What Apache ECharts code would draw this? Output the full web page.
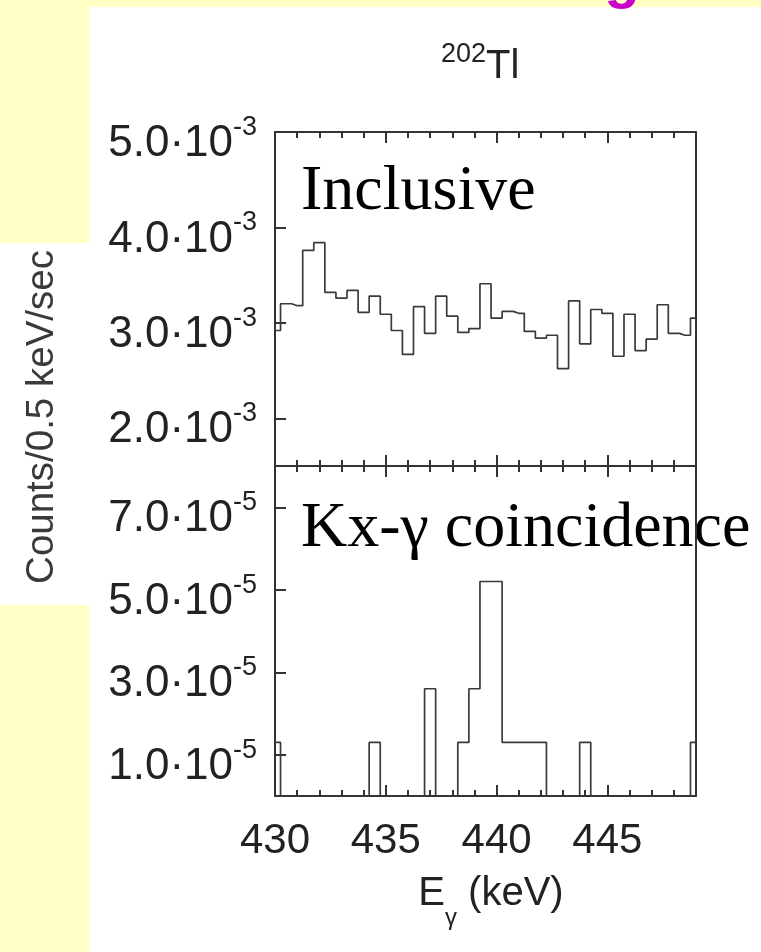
<!DOCTYPE html>
<html>
<head>
<meta charset="utf-8">
<script src="https://cdn.jsdelivr.net/npm/echarts@6/dist/echarts.min.js"></script>
<style>
  html, body { margin: 0; padding: 0; background: #FFFFC6; }
  #chart { width: 761px; height: 952px; }
</style>
</head>
<body>
<div id="chart"></div>
<script>
// bin centres (0.5 keV bins)
const energies = [430, 430.5, 431, 431.5, 432, 432.5, 433, 433.5, 434, 434.5,
  435, 435.5, 436, 436.5, 437, 437.5, 438, 438.5, 439, 439.5,
  440, 440.5, 441, 441.5, 442, 442.5, 443, 443.5, 444, 444.5,
  445, 445.5, 446, 446.5, 447, 447.5, 448, 448.5, 449]

// counts/0.5keV/sec, inclusive spectrum
const inclusive = [0.00292, 0.00320, 0.00318, 0.00376, 0.00384, 0.00332, 0.00326, 0.00334, 0.00311, 0.00328,
  0.00309, 0.00292, 0.00267, 0.00317, 0.00289, 0.00328, 0.00307, 0.00290, 0.00294, 0.00341,
  0.00305, 0.00312, 0.00310, 0.00291, 0.00284, 0.00287, 0.00252, 0.00323, 0.00278, 0.00314,
  0.00310, 0.00265, 0.00309, 0.00271, 0.00283, 0.00319, 0.00289, 0.00287, 0.00305]

// Kx-gamma coincidence spectrum
const coincidence = [1.3e-5, 0, 0, 0, 0, 0, 0, 0, 0, 1.3e-5,
  0, 0, 0, 0, 2.6e-5, 0, 0, 1.3e-5, 2.6e-5, 5.2e-5,
  5.2e-5, 1.3e-5, 1.3e-5, 1.3e-5, 1.3e-5, 0, 0, 0, 1.3e-5, 0,
  0, 0, 0, 0, 0, 0, 0, 0, 1.3e-5]

const xTickLabels = [430, 435, 440, 445]
const xMajorTicks = [435, 440, 445]
const yTicksTop = [0.002, 0.003, 0.004, 0.005]
const yTicksBottom = [1e-5, 3e-5, 5e-5, 7e-5]

const frameColor = '#333'
const sans = 'Liberation Sans, Arial, sans-serif'
const serif = 'Liberation Serif, Times New Roman, serif'

const chart = echarts.init(document.getElementById('chart'))

const sciRich = {
  m: { fontSize: 44, fontFamily: sans, color: '#222', lineHeight: 52, verticalAlign: 'bottom' },
  s: { fontSize: 27, fontFamily: sans, color: '#222', lineHeight: 30, verticalAlign: 'top' }
}
function sciLabel(exp) {
  return v => '{m|' + (v / Math.pow(10, exp)).toFixed(1) + '·10}{s|' + exp + '}'
}

const lineStyle = { color: frameColor, width: 2 }

// minor (1 keV) and major (5 keV) ticks, drawn on bottom and top of each panel
function xAxes(gridIndex, withLabels) {
  let list = []
  ;['bottom', 'top'].forEach(pos => {
    list.push({
      gridIndex, type: 'value', position: pos, min: 430, max: 449, interval: 1,
      axisLine: { show: true, lineStyle },
      axisTick: { inside: true, length: 6, lineStyle },
      axisLabel: { show: false },
      splitLine: { show: false }
    })
    list.push({
      gridIndex, type: 'value', position: pos, min: 430, max: 449,
      axisLine: { show: false },
      axisTick: { inside: true, length: 11, lineStyle, customValues: xMajorTicks },
      axisLabel: {
        show: withLabels && pos === 'bottom',
        customValues: xTickLabels,
        margin: 24,
        fontSize: 42, fontFamily: sans, color: '#222'
      },
      splitLine: { show: false }
    })
  })
  return list
}

function yAxes(gridIndex, min, max, ticks, exp) {
  return [
    {
      gridIndex, type: 'value', position: 'left', min, max,
      axisLine: { show: true, lineStyle },
      axisTick: { inside: true, length: 11, lineStyle, customValues: ticks },
      axisLabel: { customValues: ticks, margin: 18, padding: [16, 0, 0, 0], formatter: sciLabel(exp), rich: sciRich },
      splitLine: { show: false }
    },
    {
      gridIndex, type: 'value', position: 'right', min, max,
      axisLine: { show: true, lineStyle },
      axisTick: { show: false },
      axisLabel: { show: false },
      splitLine: { show: false }
    }
  ]
}

const option = {
  backgroundColor: '#FFFFC6',
  animation: false,
  grid: [
    { left: 275, top: 132, width: 421, height: 334 },
    { left: 275, top: 466, width: 421, height: 330 }
  ],
  xAxis: [...xAxes(0, false), ...xAxes(1, true)],
  yAxis: [...yAxes(0, 0.0015, 0.005, yTicksTop, -3), ...yAxes(1, 0, 8e-5, yTicksBottom, -5)],
  series: [
    {
      type: 'line', step: 'middle', xAxisIndex: 0, yAxisIndex: 0,
      data: energies.map((e, i) => [e, inclusive[i]]),
      symbol: 'none', lineStyle: { color: '#3a3a3a', width: 1.7 }
    },
    {
      type: 'line', step: 'middle', xAxisIndex: 4, yAxisIndex: 2,
      data: energies.map((e, i) => [e, coincidence[i]]),
      symbol: 'none', lineStyle: { color: '#3a3a3a', width: 1.7 }
    }
  ],
  graphic: [
    // slide background pieces
    { type: 'rect', z: -10, shape: { x: 89, y: 7, width: 672, height: 945 }, style: { fill: '#fff' } },
    { type: 'rect', z: -10, shape: { x: 0, y: 243, width: 89, height: 362 }, style: { fill: '#fff' } },
    { type: 'text', z: -5, x: 622, y: 10, style: { text: 'g', font: 'bold 58px ' + sans, fill: '#CC00CC', textAlign: 'center', textVerticalAlign: 'bottom' } },
    // title
    {
      type: 'text', x: 441, y: 64,
      style: {
        text: '{s|202}{t|Tl}', textAlign: 'left', textVerticalAlign: 'middle',
        rich: {
          s: { fontSize: 27, fontFamily: sans, fill: '#222', lineHeight: 46, verticalAlign: 'top' },
          t: { fontSize: 40, fontFamily: sans, fill: '#222', lineHeight: 46, verticalAlign: 'bottom' }
        }
      }
    },
    // panel labels
    { type: 'text', x: 301, y: 192, style: { text: 'Inclusive', font: '64px ' + serif, fill: '#000', textAlign: 'left', textVerticalAlign: 'middle' } },
    { type: 'text', x: 301, y: 529, style: { text: 'Kx-γ coincidence', font: '64px ' + serif, fill: '#000', textAlign: 'left', textVerticalAlign: 'middle' } },
    // axis titles
    { type: 'text', x: 42, y: 417, rotation: Math.PI / 2, style: { text: 'Counts/0.5 keV/sec', font: '38.5px ' + sans, fill: '#3a3a3a', textAlign: 'center', textVerticalAlign: 'middle' } },
    {
      type: 'text', x: 491, y: 902,
      style: {
        text: '{e|E}{g|γ}{e| (keV)}', textAlign: 'center', textVerticalAlign: 'middle',
        rich: {
          e: { fontSize: 40, fontFamily: sans, fill: '#222', lineHeight: 56, verticalAlign: 'top' },
          g: { fontSize: 24, fontFamily: sans, fill: '#222', lineHeight: 56, verticalAlign: 'bottom' }
        }
      }
    }
  ]
}

chart.setOption(option)
</script>
</body>
</html>
